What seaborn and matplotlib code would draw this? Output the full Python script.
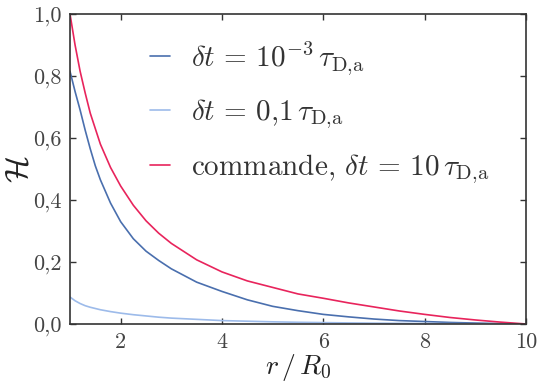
import numpy as np
import pandas as pd
import matplotlib
matplotlib.use("Agg")
import matplotlib.pyplot as plt
import seaborn as sns
from matplotlib.lines import Line2D

# ---- data ----
r_values = [1.0, 1.1, 1.2, 1.3, 1.4, 1.5, 1.6, 1.8, 2.0, 2.25, 2.5, 2.75, 3.0, 3.5,
            4.0, 4.5, 5.0, 5.5, 6.0, 6.5, 7.0, 7.5, 8.0, 8.5, 9.0, 9.5, 10.0]
h_dt_small = [0.815, 0.75, 0.69, 0.625, 0.565, 0.51, 0.465, 0.39, 0.33, 0.275, 0.235, 0.205,
              0.178, 0.135, 0.105, 0.078, 0.057, 0.043, 0.031, 0.023, 0.016, 0.011, 0.008,
              0.005, 0.003, 0.0012, 0.0]
h_dt_mid = [0.087, 0.075, 0.066, 0.059, 0.054, 0.050, 0.046, 0.040, 0.035, 0.030, 0.026,
            0.022, 0.019, 0.015, 0.011, 0.009, 0.007, 0.0055, 0.0045, 0.0035, 0.0027, 0.002,
            0.0015, 0.001, 0.0006, 0.0003, 0.0]
h_command = [1.0, 0.90, 0.815, 0.745, 0.68, 0.63, 0.58, 0.505, 0.445, 0.383, 0.333, 0.293,
             0.26, 0.207, 0.168, 0.139, 0.118, 0.097, 0.083, 0.068, 0.055, 0.042, 0.031,
             0.021, 0.013, 0.006, 0.0]

series_labels = [
    r"$\delta t\,=\,10^{-3}\,\tau_{\mathrm{D{,}a}}$",
    r"$\delta t\,=\,0{,}1\,\tau_{\mathrm{D{,}a}}$",
    r"commande, $\delta t\,=\,10\,\tau_{\mathrm{D{,}a}}$",
]
series_colors = ["#4a6fae", "#9dbbea", "#e8245c"]

x_ticks = [2, 4, 6, 8, 10]
y_ticks = [0.0, 0.2, 0.4, 0.6, 0.8, 1.0]
y_tick_labels = ["0,0", "0,2", "0,4", "0,6", "0,8", "1,0"]

# ---- long-form table ----
frames = []
for lab, vals in zip(series_labels, [h_dt_small, h_dt_mid, h_command]):
    frames.append(pd.DataFrame({"r": r_values, "H": vals, "serie": lab}))
df = pd.concat(frames, ignore_index=True)

sns.set_style("ticks")
plt.rcParams["font.family"] = ["serif"]
plt.rcParams["font.serif"] = ["cmr10", "DejaVu Serif"]
plt.rcParams["mathtext.fontset"] = "cm"
plt.rcParams["axes.formatter.use_mathtext"] = True

fig = plt.figure(figsize=(5.39, 3.87), dpi=100)
ax = fig.add_axes([70 / 539, 1 - 324 / 387, (526 - 70) / 539, (324 - 14) / 387])

sns.lineplot(data=df, x="r", y="H", hue="serie", palette=dict(zip(series_labels, series_colors)),
             hue_order=series_labels, ax=ax, linewidth=1.2, legend=False, estimator=None, sort=False)

ax.set_xlim(1, 10)
ax.set_ylim(0, 1)
ax.set_xticks(x_ticks)
ax.set_xticklabels([str(t) for t in x_ticks])
ax.set_yticks(y_ticks)
ax.set_yticklabels(y_tick_labels)
ax.tick_params(direction="in", length=4, width=1, top=True, right=True,
               labelsize=16, colors="#333333", labelcolor="#444444", pad=6)
for s in ax.spines.values():
    s.set_color("#333333")
    s.set_linewidth(1.2)

ax.set_xlabel(r"$r\,/\,R_0$", fontsize=20, color="#222222", labelpad=0)
ax.set_ylabel(r"$\mathcal{H}$", fontsize=23, color="#222222")
ax.yaxis.set_label_coords(-0.08, 0.5)

handles = [Line2D([], [], color=c, lw=1.2) for c in series_colors]
leg = ax.legend(handles, series_labels, loc="upper left", bbox_to_anchor=(0.175, 0.92),
                frameon=False, fontsize=21, handlelength=0.7, handletextpad=0.7,
                labelspacing=0.72, borderpad=0, borderaxespad=0, labelcolor="#333333")

fig.savefig("out.png", dpi=100)
